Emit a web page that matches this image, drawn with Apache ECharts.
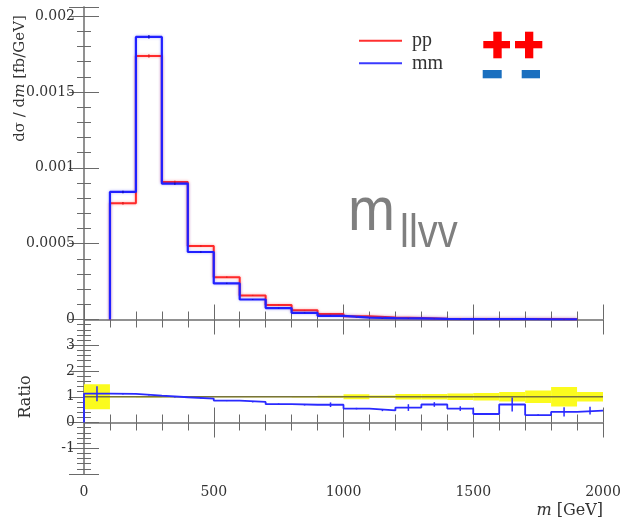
<!DOCTYPE html>
<html><head><meta charset="utf-8">
<script src="https://cdn.jsdelivr.net/npm/echarts@6/dist/echarts.min.js"></script>
<style>html,body{margin:0;padding:0;background:#fff}#c{width:625px;height:523px}</style>
</head><body><div id="c"></div>
<script>
// ---- data ----
const binEdges = [0,100,200,300,400,500,600,700,800,900,1000,1100,1200,1300,1400,1500,1600,1700,1800,1900,2000];
const ppValues = [null,0.000766,0.001737,0.000907,0.000484,0.000279,0.000159,0.000096,0.000061,0.000037,0.000022,0.000013,0.000010,0.000005,0.000004,0.000004,0.000003,0.000003,0.000002,null];
const mmValues = [null,0.000841,0.001863,0.000896,0.000445,0.000238,0.000132,0.000075,0.000044,0.000024,0.000013,0.000009,0.000007,0.000004,0.000003,0.000002,0.000002,0.000001,0.000001,null];
const ppErrors = [null,0.000008,0.000010,0.000007,0.000005,0.000004,0.000003,0.000002,0.000002,0.000001,0.000001,0.000001,0.000001,0.000001,0.000001,0.000001,0.000001,0.000001,0.000001,null];
const mmErrors = [null,0.000008,0.000011,0.000007,0.000005,0.000004,0.000003,0.000002,0.000002,0.000001,0.000001,0.000001,0.000001,0.000001,0.000001,0.000001,0.000001,0.000001,0.000001,null];
const ratioValues = [1.12,1.11,1.04,0.98,0.93,0.85,0.80,0.71,0.69,0.69,0.54,0.47,0.58,0.70,0.54,0.33,0.70,0.29,0.41,0.46];
const ratioErrors = [0.29,0.02,0.01,0.01,0.01,0.02,0.02,0.03,0.03,0.09,0.03,0.03,0.13,0.09,0.09,0.04,0.27,0.03,0.18,0.15];
const bandHalfWidths = [0.49,0.01,0.005,0.008,0.01,0.012,0.015,0.02,0.025,0.04,0.10,0.05,0.11,0.11,0.13,0.15,0.18,0.24,0.38,0.18];
const topTicks = [0,0.0005,0.001,0.0015,0.002];
const topTickLabels = ['0','0.0005','0.001','0.0015','0.002'];
const ratioTickLabels = {'-1':'-1','0':'0','1':'1','2':'2','3':'3'};
const xTickLabels = {'0':'0','500':'500','1000':'1000','1500':'1500','2000':'2000'};

// ---- helpers ----
function stepPoints(vals){
  const pts = [];
  for (let i=0;i<vals.length;i++){
    if (vals[i]==null) continue;
    if (pts.length===0) pts.push([binEdges[i],0]);
    pts.push([binEdges[i],vals[i]],[binEdges[i+1],vals[i]]);
  }
  return pts;
}
function errData(vals, errs){
  const d=[];
  for (let i=0;i<vals.length;i++){
    if (vals[i]==null) continue;
    d.push([(binEdges[i]+binEdges[i+1])/2, vals[i], errs[i]]);
  }
  return d;
}
function errRender(color,w){
  return function(params, api){
    const x=api.value(0), y=api.value(1), e=api.value(2);
    const a=api.coord([x,y+e]), b=api.coord([x,y-e]);
    return {type:'line', shape:{x1:a[0],y1:a[1],x2:b[0],y2:b[1]}, style:{stroke:color,lineWidth:w}};
  };
}
const bandData = ratioValues.map((r,i)=>[binEdges[i],binEdges[i+1],1,bandHalfWidths[i]]);

const AX = '#8a8a8a', TK = '#6a6a6a';
const serif = 'DejaVu Serif';
function xAxisDef(grid, pos, labels){
  return {type:'value', gridIndex:grid, position:pos, min:0, max:2000, interval:500,
    axisLine:{show:true,lineStyle:{color:AX,width:1.5}},
    axisTick:{show:true,inside:true,length:15,lineStyle:{color:TK,width:1}},
    minorTick:{show:true,splitNumber:5,length:8,lineStyle:{color:TK,width:1}},
    splitLine:{show:false},
    axisLabel:{show:labels, margin:11, fontFamily:serif, fontSize:14, color:'#333',
      formatter:v=> (xTickLabels[String(v)]!==undefined ? xTickLabels[String(v)] : '')}};
}
function yTopDef(pos, labels){
  return {type:'value', gridIndex:0, position:pos, min:0, max:0.00206, interval:0.0005,
    axisLine:{show:true,lineStyle:{color:AX,width:1.5}},
    axisTick:{show:true,inside:true,length:15,lineStyle:{color:TK,width:1}},
    minorTick:{show:true,splitNumber:5,length:7,lineStyle:{color:TK,width:1}},
    splitLine:{show:false},
    axisLabel:{show:labels, margin:9, fontFamily:serif, fontSize:14, color:'#333',
      formatter:v=>{ for(let i=0;i<topTicks.length;i++){ if(Math.abs(v-topTicks[i])<1e-9) return topTickLabels[i]; } return ''; }}};
}
function yRatioDef(pos, labels){
  return {type:'value', gridIndex:1, position:pos, min:-2, max:4, interval:1,
    axisLine:{show:true,lineStyle:{color:AX,width:1.5}},
    axisTick:{show:true,inside:true,length:15,lineStyle:{color:TK,width:1}},
    minorTick:{show:true,splitNumber:5,length:7,lineStyle:{color:TK,width:1}},
    splitLine:{show:false},
    axisLabel:{show:labels, margin:9, fontFamily:serif, fontSize:14, color:'#333',
      formatter:v=> (ratioTickLabels[String(v)]!==undefined ? ratioTickLabels[String(v)] : '')}};
}

const chart = echarts.init(document.getElementById('c'), null, {renderer:'canvas'});
chart.setOption({
  animation:false,
  backgroundColor:'#fff',
  grid:[
    {left:84, top:7, width:519, height:312.5},
    {left:84, top:319.5, width:519, height:154.5}
  ],
  xAxis:[xAxisDef(0,'bottom',false), xAxisDef(0,'top',false), xAxisDef(1,'bottom',true), xAxisDef(1,'top',false)],
  yAxis:[yTopDef('left',true), yTopDef('right',false), yRatioDef('left',true), yRatioDef('right',false)],
  legend:{
    data:['pp','mm'], orient:'vertical', left:359, top:29.4, padding:0, itemGap:0,
    itemWidth:43, itemHeight:2, icon:'rect',
    textStyle:{fontFamily:'Liberation Serif', fontSize:20, color:'#333', lineHeight:22.6, padding:[0,0,0,5]}
  },
  series:[
    {name:'pp', type:'line', xAxisIndex:0, yAxisIndex:0, data:stepPoints(ppValues), symbol:'none',
      color:'#ff3030', lineStyle:{color:'#ff2a2a', width:2, shadowColor:'rgba(255,0,0,0.35)', shadowBlur:3}, z:3},
    {name:'mm', type:'line', xAxisIndex:0, yAxisIndex:0, data:stepPoints(mmValues), symbol:'none',
      color:'#3a3aff', lineStyle:{color:'#2020ff', width:2.2, shadowColor:'rgba(0,0,255,0.3)', shadowBlur:3}, z:4},
    {name:'ppErr', type:'custom', xAxisIndex:0, yAxisIndex:0, data:errData(ppValues,ppErrors),
      renderItem:errRender('#e02020',1.5), encode:{x:0,y:1}, z:5},
    {name:'mmErr', type:'custom', xAxisIndex:0, yAxisIndex:0, data:errData(mmValues,mmErrors),
      renderItem:errRender('#1010c0',1.5), encode:{x:0,y:1}, z:5},
    {name:'band', type:'custom', xAxisIndex:2, yAxisIndex:2, data:bandData, clip:true,
      renderItem:function(params, api){
        const lo=api.value(0), hi=api.value(1), c=api.value(2), e=api.value(3);
        const p1=api.coord([lo,c+e]), p2=api.coord([hi,c-e]);
        return {type:'rect', shape:{x:p1[0], y:p1[1], width:p2[0]-p1[0], height:Math.max(p2[1]-p1[1],0.8)}, style:{fill:'#fbfb1e'}};
      }, encode:{x:[0,1], y:2}, z:1},
    {name:'refLine', type:'line', xAxisIndex:2, yAxisIndex:2, data:[[binEdges[0],1],[binEdges[binEdges.length-1],1]],
      symbol:'none', lineStyle:{color:'#77733a', width:1.5}, z:2},
    {name:'ratio', type:'line', xAxisIndex:2, yAxisIndex:2, data:stepPoints(ratioValues), symbol:'none',
      lineStyle:{color:'#2a2aff', width:1.8}, z:3},
    {name:'ratioErr', type:'custom', xAxisIndex:2, yAxisIndex:2, data:errData(ratioValues,ratioErrors),
      renderItem:errRender('#2a2aff',1.5), encode:{x:0,y:1}, z:4}
  ],
  graphic:[
    {type:'text', x:20, y:78.5, rotation:Math.PI/2,
      style:{text:'d\u03c3 / d{i|m} [fb/GeV]', font:'15px "DejaVu Serif"', fill:'#333', align:'center', verticalAlign:'middle',
        rich:{i:{fontStyle:'italic', fontFamily:serif, fontSize:15, fill:'#333'}}}},
    {type:'text', x:26, y:397, rotation:Math.PI/2,
      style:{text:'Ratio', font:'16px "DejaVu Serif"', fill:'#333', align:'center', verticalAlign:'middle'}},
    {type:'text', x:603, y:511,
      style:{text:'{i|m} [GeV]', font:'16px "DejaVu Serif"', fill:'#333', align:'right', verticalAlign:'middle',
        rich:{i:{fontStyle:'italic', fontFamily:serif, fontSize:16, fill:'#333'}}}},
    {type:'text', x:348, y:182, scaleX:0.91,
      style:{text:'m', font:'62px "Liberation Sans"', fill:'#7f7f7f', align:'left', verticalAlign:'top'}},
    {type:'text', x:400, y:211, scaleX:0.85,
      style:{text:'llvv', font:'47px "Liberation Sans"', fill:'#7f7f7f', align:'left', verticalAlign:'top'}},
    // ++ and -- symbols
    {type:'rect', shape:{x:483.3, y:41, width:26.7, height:7.3}, style:{fill:'#ff0000'}},
    {type:'rect', shape:{x:493.3, y:31.7, width:8.4, height:26.6}, style:{fill:'#ff0000'}},
    {type:'rect', shape:{x:515, y:41, width:27.3, height:7.3}, style:{fill:'#ff0000'}},
    {type:'rect', shape:{x:525, y:31.7, width:8.3, height:26.6}, style:{fill:'#ff0000'}},
    {type:'rect', shape:{x:482.7, y:70, width:19, height:8.3}, style:{fill:'#1a6fbf'}},
    {type:'rect', shape:{x:521.7, y:70, width:18.3, height:8.3}, style:{fill:'#1a6fbf'}}
  ]
});
</script></body></html>
